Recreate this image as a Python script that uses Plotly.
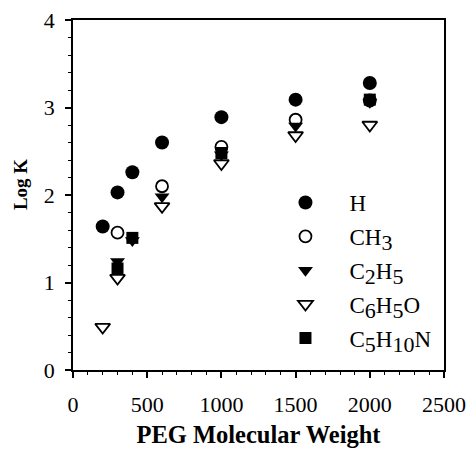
import plotly.graph_objects as go

peg_H = [200, 300, 400, 600, 1000, 1500, 2000]
logk_H = [1.64, 2.03, 2.26, 2.60, 2.89, 3.09, 3.28]

peg_CH3 = [300, 600, 1000, 1500, 2000]
logk_CH3 = [1.57, 2.10, 2.55, 2.86, 3.08]

peg_C2H5 = [300, 400, 600, 1000, 1500, 2000]
logk_C2H5 = [1.24, 1.48, 1.98, 2.46, 2.79, 3.06]

peg_C6H5O = [200, 300, 600, 1000, 1500, 2000]
logk_C6H5O = [0.49, 1.05, 1.87, 2.36, 2.68, 2.80]

peg_C5H10N = [300, 400, 1000, 2000]
logk_C5H10N = [1.16, 1.51, 2.48, 3.09]


def sub(t):
    return '<sub><span style="font-size:22px">' + t + '</span></sub>'


series = [
    ("H", peg_H, logk_H, "circle"),
    ("CH" + sub("3"), peg_CH3, logk_CH3, "circle-open"),
    ("C" + sub("2") + "H" + sub("5"), peg_C2H5, logk_C2H5, "triangle-down"),
    ("C" + sub("6") + "H" + sub("5") + "O", peg_C6H5O, logk_C6H5O, "triangle-down-open"),
    ("C" + sub("5") + "H" + sub("10") + "N", peg_C5H10N, logk_C5H10N, "square"),
]

fig = go.Figure()
for i, (name, xs, ys, sym) in enumerate(series):
    if sym == "circle":
        size = 14
    elif sym == "circle-open":
        size = 12
    elif "triangle" in sym:
        size = 13
    else:
        size = 12
    fig.add_trace(go.Scatter(
        x=xs, y=ys, mode="markers", name=name, legendgroup=str(i),
        marker=dict(symbol=sym, size=size, color="black",
                    line=dict(color="black", width=1.8 if "open" in sym else 0)),
    ))

serif = "Liberation Serif, Times New Roman, serif"
axis_common = dict(
    showline=True, linecolor="black", linewidth=1.5, mirror=True,
    ticks="outside", ticklen=6, tickwidth=1.5, tickcolor="black",
    showgrid=False, zeroline=False, automargin=False,
    tickfont=dict(family=serif, size=22, color="black"),
)
fig.update_layout(
    width=468, height=449,
    margin=dict(l=73, r=24, t=20, b=79),
    paper_bgcolor="white", plot_bgcolor="white",
    font=dict(family=serif, color="black"),
    xaxis=dict(range=[0, 2500], dtick=500, ticklabelstandoff=8,
               minor=dict(dtick=100, ticks="outside", ticklen=3, tickcolor="black", tickwidth=1),
               title=dict(text="<b>PEG Molecular Weight</b>", font=dict(family=serif, size=24.5), standoff=10),
               **axis_common),
    yaxis=dict(range=[0, 4], dtick=1, ticklabelstandoff=6,
               minor=dict(dtick=0.2, ticks="outside", ticklen=3, tickcolor="black", tickwidth=1),
               **axis_common),
    annotations=[dict(text="<b>Log K</b>", textangle=-90, xref="paper", yref="paper",
                      x=-0.143, y=0.531, xanchor="center", yanchor="middle", showarrow=False,
                      font=dict(family=serif, size=19, color="black"))],
    legend=dict(x=0.508, y=0.54, xanchor="left", yanchor="top",
                font=dict(family=serif, size=23, color="black"),
                bgcolor="rgba(0,0,0,0)", traceorder="grouped", tracegroupgap=1,
                itemwidth=78),
    showlegend=True,
)
fig.write_html("out.html", config={"displayModeBar": False},
               post_script="document.body.style.margin='0';")
